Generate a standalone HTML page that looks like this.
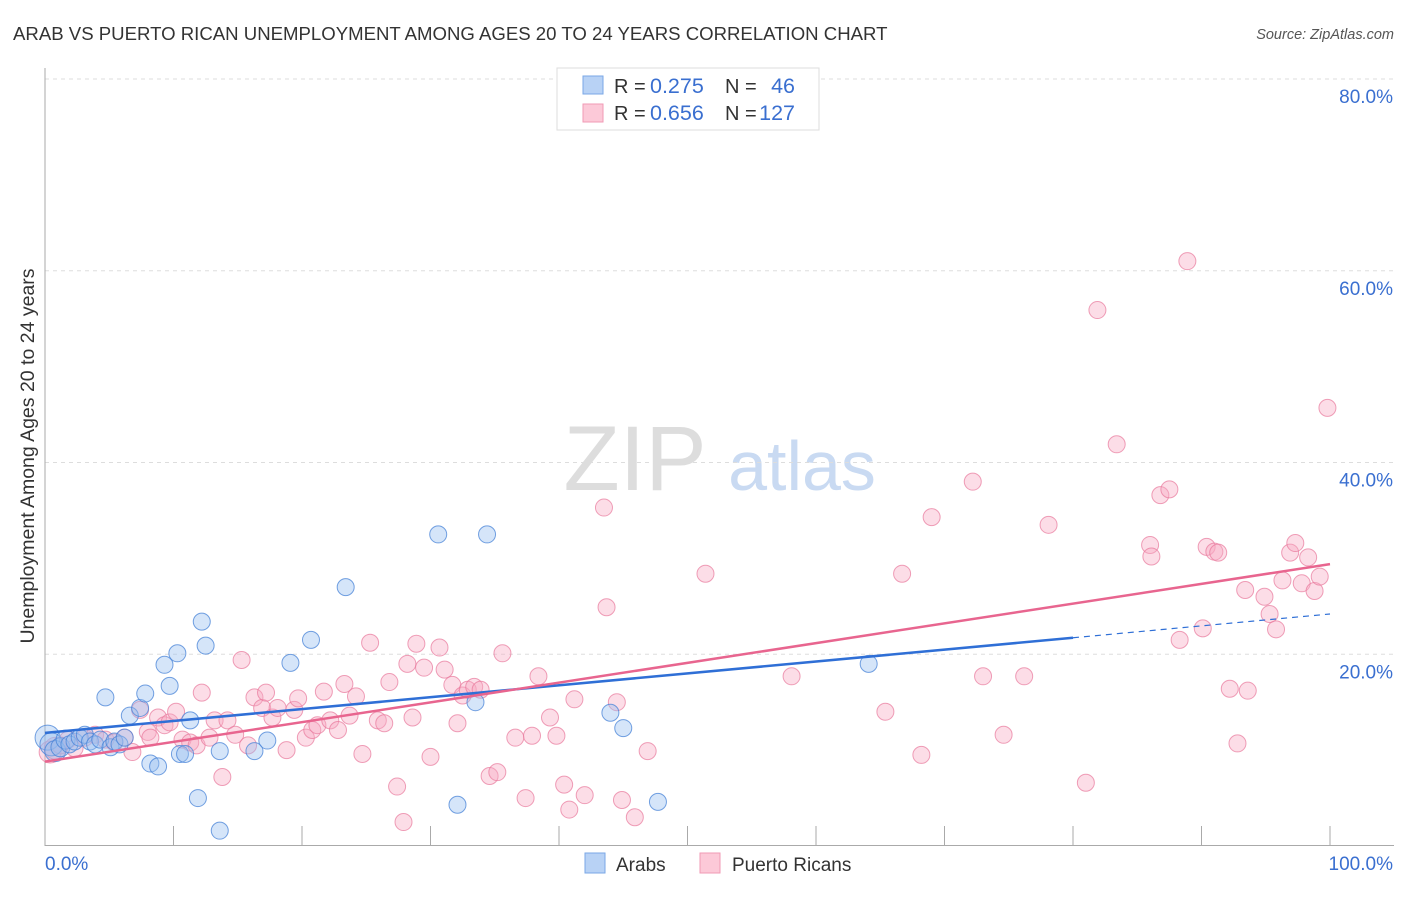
<!DOCTYPE html>
<html><head><meta charset="utf-8"><style>
body{margin:0;background:#fff;font-family:"Liberation Sans",sans-serif}
svg text{font-family:"Liberation Sans",sans-serif}
</style></head><body>
<svg id="c" width="1406" height="892">
<text x="13" y="40" font-size="18.6" fill="#333">ARAB VS PUERTO RICAN UNEMPLOYMENT AMONG AGES 20 TO 24 YEARS CORRELATION CHART</text>
<text x="1394" y="39" font-size="14.5" fill="#555" font-style="italic" text-anchor="end">Source: ZipAtlas.com</text>
<text x="34" y="456" font-size="19.5" fill="#333" text-anchor="middle" transform="rotate(-90 34 456)">Unemployment Among Ages 20 to 24 years</text>
<g><text x="635" y="490" font-size="92" fill="#ddd" font-family="Liberation Serif" text-anchor="middle">ZIP</text><text x="802" y="490" font-size="70" fill="#c9daf2" text-anchor="middle">atlas</text></g>
<g id="grid"></g><g id="pts"></g><g id="lines"></g>
<g>
<rect x="557" y="68" width="262" height="62" fill="#fff" stroke="#ddd"/>
<rect x="583" y="76" width="20" height="18" fill="#b8d2f5" stroke="#7aa7e6"/>
<rect x="583" y="104" width="20" height="18" fill="#fcc9d8" stroke="#f09ab5"/>
<text x="614" y="93" font-size="20" fill="#333">R =</text>
<text x="650" y="93" font-size="21.5" fill="#3a6fd0">0.275</text>
<text x="725" y="93" font-size="20" fill="#333">N =</text>
<text x="795" y="93" font-size="21.5" fill="#3a6fd0" text-anchor="end">46</text>
<text x="614" y="120" font-size="20" fill="#333">R =</text>
<text x="650" y="120" font-size="21.5" fill="#3a6fd0">0.656</text>
<text x="725" y="120" font-size="20" fill="#333">N =</text>
<text x="795" y="120" font-size="21.5" fill="#3a6fd0" text-anchor="end">127</text>
</g>
<g>
<rect x="585" y="853" width="20" height="20" fill="#b8d2f5" stroke="#7aa7e6"/>
<text x="616" y="871" font-size="19" fill="#333">Arabs</text>
<rect x="700" y="853" width="20" height="20" fill="#fcc9d8" stroke="#f09ab5"/>
<text x="732" y="871" font-size="19" fill="#333">Puerto Ricans</text>
</g>
</svg>
<script>
const yTicks=[20,40,60,80];
const yTickLabels=["20.0%","40.0%","60.0%","80.0%"];
const xTicks=[10,20,30,40,50,60,70,80,90,100];
const xLabels=["0.0%","100.0%"];
const arabX=[0.2,0.5,0.8,1.2,1.6,1.9,2.3,2.7,3.1,3.5,3.9,4.3,4.7,5.1,5.4,5.8,6.2,6.6,7.4,7.8,8.2,8.8,9.3,9.7,10.3,10.5,10.9,11.3,11.9,12.2,12.5,13.6,13.6,16.3,17.3,19.1,20.7,23.4,30.6,32.1,33.5,34.4,44.0,45.0,47.7,64.1];
const arabY=[11.3,10.6,9.9,10.3,11.1,10.6,10.9,11.3,11.6,10.9,10.6,11.1,15.5,10.3,10.9,10.6,11.3,13.6,14.4,15.9,8.6,8.3,18.9,16.7,20.1,9.6,9.6,13.1,5.0,23.4,20.9,1.6,9.9,9.9,11.0,19.1,21.5,27.0,32.5,4.3,15.0,32.5,13.9,12.3,4.6,19.0];
const arabR=[13,12,11,10,10,9,9,9,9,9,9,9,9,9,9,9,9,9,9,9,9,9,9,9,9,9,9,9,9,9,9,9,9,9,9,9,9,9,9,9,9,9,9,9,9,9];
const prX=[0.4,0.8,1.2,1.8,2.3,3.1,3.9,4.7,5.4,6.2,6.8,7.4,8.0,8.2,8.8,9.3,9.7,10.2,10.7,11.3,11.8,12.2,12.8,13.2,13.8,14.2,14.8,15.3,15.8,16.3,16.9,17.2,17.7,18.1,18.8,19.4,19.7,20.3,20.8,21.2,21.7,22.2,22.8,23.3,23.7,24.2,24.7,25.3,25.9,26.4,26.8,27.4,27.9,28.2,28.6,28.9,29.5,30.0,30.7,31.1,31.7,32.1,32.5,32.9,33.4,33.9,34.6,35.2,35.6,36.6,37.4,37.9,38.4,39.3,39.8,40.4,40.8,41.2,42.0,43.5,43.7,44.5,44.9,45.9,46.9,51.4,58.1,65.4,66.7,68.2,69.0,72.2,73.0,74.6,76.2,78.1,81.0,81.9,83.4,86.0,86.1,86.8,87.5,88.3,88.9,90.1,90.4,91.0,91.3,92.2,92.8,93.4,93.6,94.9,95.3,95.8,96.3,96.9,97.3,97.8,98.3,98.8,99.2,99.8];
const prY=[9.8,10.2,10.5,11.1,10.2,11.3,11.6,11.1,10.8,11.3,9.8,14.2,11.9,11.3,13.4,12.6,12.9,14.0,11.1,10.8,10.5,16.0,11.3,13.1,7.2,13.1,11.6,19.4,10.5,15.5,14.4,16.0,13.4,14.4,10.0,14.2,15.4,11.3,12.1,12.6,16.1,13.1,12.1,16.9,13.6,15.6,9.6,21.2,13.1,12.8,17.1,6.2,2.5,19.0,13.4,21.1,18.6,9.3,20.7,18.4,16.8,12.8,15.7,16.3,16.6,16.3,7.3,7.7,20.1,11.3,5.0,11.5,17.7,13.4,11.5,6.4,3.8,15.3,5.3,35.3,24.9,15.0,4.8,3.0,9.9,28.4,17.7,14.0,28.4,9.5,34.3,38.0,17.7,11.6,17.7,33.5,6.6,55.9,41.9,31.4,30.2,36.6,37.2,21.5,61.0,22.7,31.2,30.7,30.6,16.4,10.7,26.7,16.2,26.0,24.2,22.6,27.7,30.6,31.6,27.4,30.1,26.6,28.1,45.7];
const X=v=>45+v*12.85, Y=v=>846-v*9.5875;
const NS="http://www.w3.org/2000/svg";
function mk(parent,tag,attrs){const e=document.createElementNS(NS,tag);for(const k in attrs)e.setAttribute(k,attrs[k]);document.getElementById(parent).appendChild(e);return e;}
yTicks.forEach((t,i)=>{
 const l=mk('grid','line',{x1:45,x2:1394,y1:Y(t),y2:Y(t),stroke:'#ddd','stroke-dasharray':'4,4'});
 
 
 const tx=mk('grid','text',{x:1393,y:Y(t)+24,'font-size':19,fill:'#3a6fd0','text-anchor':'end'});tx.textContent=yTickLabels[i];
 
 
});
const topLine=mk('grid','line',{x1:45,x2:1394,y1:79,y2:79,stroke:'#ddd','stroke-dasharray':'4,4'});


const ya=mk('grid','line',{x1:45,x2:45,y1:68,y2:846,stroke:'#aaa'});


const xa=mk('grid','line',{x1:45,x2:1394,y1:845.5,y2:845.5,stroke:'#aaa'});


xTicks.forEach(t=>{const l=mk('grid','line',{x1:X(t),x2:X(t),y1:826,y2:846,stroke:'#aaa'});
 
 });
const xl0=mk('grid','text',{x:45,y:870,'font-size':19,fill:'#3a6fd0'});xl0.textContent=xLabels[0];


const xl1=mk('grid','text',{x:1393,y:870,'font-size':19,fill:'#3a6fd0','text-anchor':'end'});xl1.textContent=xLabels[1];


prX.forEach((x,i)=>{const c=mk('pts','circle',{cx:X(x),cy:Y(prY[i]),r:i<2?11:8.5,fill:'rgba(248,170,195,0.4)',stroke:'rgba(232,120,155,0.7)','stroke-width':1});
 
 });
arabX.forEach((x,i)=>{const c=mk('pts','circle',{cx:X(x),cy:Y(arabY[i]),r:arabR[i]-0.5,fill:'rgba(150,190,240,0.4)',stroke:'rgba(70,130,215,0.75)','stroke-width':1});
 
 });
const bA=11.8, bB=0.124, pA=8.8, pB=0.206;
const bl=mk('lines','line',{x1:X(0),y1:Y(bA),x2:X(80),y2:Y(bA+bB*80),stroke:'#2f6fd6','stroke-width':2.5});


const bd=mk('lines','line',{x1:X(80),y1:Y(bA+bB*80),x2:X(100),y2:Y(bA+bB*100),stroke:'#2f6fd6','stroke-width':1.2,'stroke-dasharray':'6,5'});


const pl=mk('lines','line',{x1:X(0),y1:Y(pA),x2:X(100),y2:Y(pA+pB*100),stroke:'#e8658f','stroke-width':2.5});


</script>
</body></html>
